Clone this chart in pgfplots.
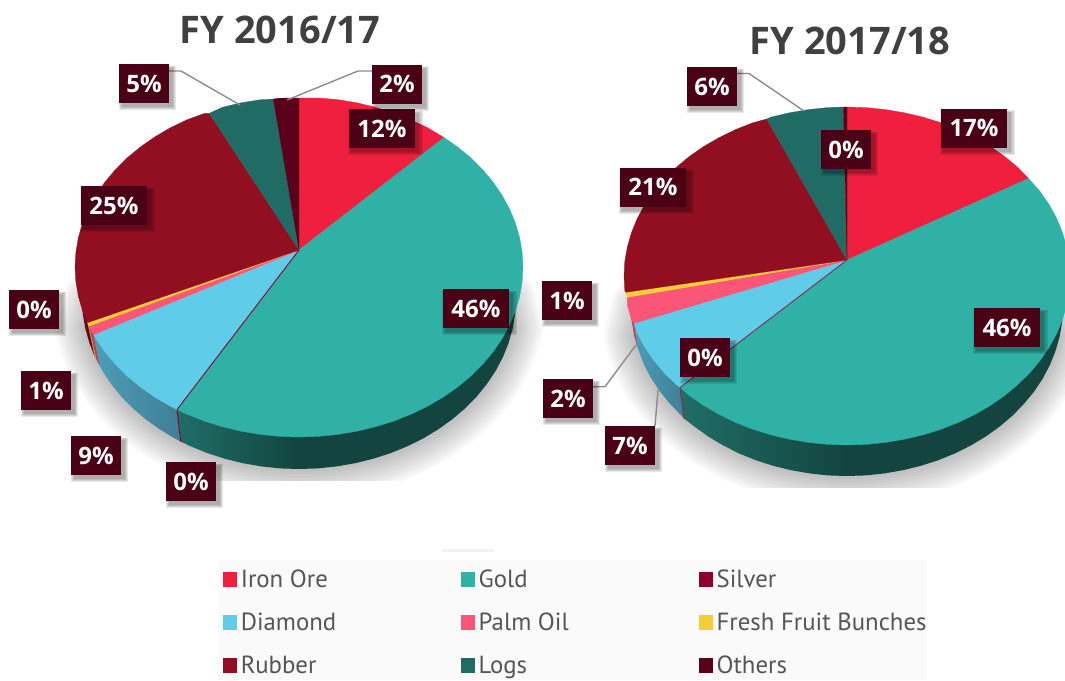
\documentclass[border=0pt]{standalone}
\usepackage{fontspec}
\setmainfont{Open Sans}
\newfontfamily\legf{PT Sans}
\usepackage{pgfplots}
\usepackage{pgfplotstable}
\pgfplotsset{compat=1.18}
\usetikzlibrary{shadows}
\definecolor{iron}{HTML}{F01F3E}
\definecolor{gold}{HTML}{2FB1A6}
\definecolor{silver}{HTML}{8F0030}
\definecolor{diamond}{HTML}{60CDE8}
\definecolor{palm}{HTML}{FB5577}
\definecolor{ffb}{HTML}{F6CE33}
\definecolor{rubber}{HTML}{920F22}
\definecolor{logs}{HTML}{206C64}
\definecolor{others}{HTML}{5A001B}
\definecolor{boxc}{HTML}{4A0015}
\definecolor{titlec}{HTML}{404040}
\definecolor{legc}{HTML}{555555}
\definecolor{leadc}{HTML}{8C8C8C}
\definecolor{gsa}{HTML}{1F6E66}
\definecolor{gsb}{HTML}{13443F}
\definecolor{dsa}{HTML}{4D9DB6}
\definecolor{dsb}{HTML}{3F7F96}
\pgfplotstableread{
x y
506 300
512.7 328.5
508.6 343
502.9 357.1
495.7 370.8
486.9 384
476.8 396.5
465.2 408.3
452.4 419.2
438.5 429.2
423.5 438.3
407.5 446.2
390.7 453.1
373.2 458.7
355.2 463.2
336.7 466.4
317.9 468.4
299 469
280.1 468.4
261.3 466.4
242.8 463.2
224.8 458.7
207.3 453.1
190.5 446.2
174.5 438.3
159.5 429.2
145.6 419.2
132.8 408.3
121.2 396.5
111.1 384
102.3 370.8
95.1 357.1
89.4 343
85.3 328.5
93 300
}\shadowA
\pgfplotstableread{
x y
1053 307
1059.7 336.3
1055.6 350.7
1050 364.8
1042.8 378.4
1034.1 391.5
1023.9 403.9
1012.5 415.6
999.7 426.5
985.8 436.5
970.9 445.4
955 453.4
938.3 460.2
920.9 465.8
902.9 470.2
884.5 473.4
865.8 475.4
847 476
828.2 475.4
809.5 473.4
791.1 470.2
773.1 465.8
755.7 460.2
739 453.4
723.1 445.4
708.2 436.5
694.3 426.5
681.5 415.6
670.1 403.9
659.9 391.5
651.2 378.4
644 364.8
638.4 350.7
634.3 336.3
641 307
}\shadowB
\tikzset{
  softshadow/.style={general shadow={shadow xshift=3pt,shadow yshift=-4pt,shadow scale=#1,fill=black,opacity=.09}},
  lab/.style={fill=boxc,text=white,font=\fontsize{24}{30}\selectfont\bfseries,
    minimum height=39pt,inner sep=0pt,
    softshadow=1.14,softshadow=1.10,softshadow=1.06,softshadow=1.02},
  labs/.style={lab,minimum width=50pt},
  labl/.style={lab,minimum width=66pt},
  ttl/.style={text=titlec,font=\fontsize{38}{44}\selectfont\bfseries,inner sep=0pt}
}
\pgfplotsset{
  wedge/.style={forget plot,fill=#1,draw=#1,line width=.3pt,line join=round},
  flat/.style={forget plot,fill=#1,draw=none},
  lead/.style={forget plot,draw=leadc,line width=1.4pt},
  shad/.style={forget plot,draw=black,opacity=.028,line width=#1,line cap=round,line join=round},
  lgimg/.style={legend image code/.code={\fill[#1] (0pt,-6pt) rectangle (13pt,8pt);}}
}
\newcommand{\lgt}[1]{\makebox[220pt][l]{#1}}
\begin{document}
\begin{tikzpicture}
\begin{axis}[
  hide axis,scale only axis,width=1065pt,height=680pt,
  xmin=0,xmax=1065,ymin=0,ymax=680,y dir=reverse,
  legend columns=3,
  legend style={draw=none,fill=none,at={(axis cs:222.7,570)},anchor=north west,
    font=\legf\fontsize{24.8}{26}\selectfont,text=legc,inner sep=0pt,
    nodes={inner sep=0pt},
    /tikz/row sep=23.8pt,
    /tikz/every odd column/.append style={column sep=4.5pt}},
  legend cell align=left
]
% legend background
\addplot[flat={black!2}] coordinates {(218,560)(927,560)(927,680)(218,680)} --cycle;
\addplot[flat={black!5}] coordinates {(442,549)(494,549)(494,552)(442,552)} --cycle;
% ground shadows
\pgfplotsinvokeforeach{60,54,48,42,36,30,24,18,12,6}{
  \addplot[shad=#1pt] table[x=x,y=y] {\shadowA};
  \addplot[shad=#1pt] table[x=x,y=y] {\shadowB};
}
\addplot[flat=white] coordinates {(0,481)(560,481)(560,545)(0,545)} --cycle;
\addplot[flat=white] coordinates {(560,488)(1065,488)(1065,545)(560,545)} --cycle;
% ---------- FY 2016/17 side walls
\addplot[forget plot,left color=gsa,right color=gsb,draw=none] coordinates {(177,409.6)(180.8,441.6)(190.5,446.2)(207.3,453.1)(224.8,458.7)(242.8,463.2)(261.3,466.4)(280.1,468.4)(299,469)(299,400)} --cycle;
\addplot[flat=gsb] coordinates {(298.5,469)(317.9,468.4)(336.7,466.4)(355.2,463.2)(373.2,458.7)(390.7,453.1)(407.5,446.2)(423.5,438.3)(438.5,429.2)(452.4,419.2)(465.2,408.3)(476.8,396.5)(486.9,384)(495.7,370.8)(502.9,357.1)(508.6,343)(512.7,328.5)(515.2,313.8)(516,299)(523,267)(298.5,400)} --cycle;
\addplot[forget plot,left color=dsa,right color=dsb,draw=none] coordinates {(177,409.6)(180.8,441.6)(174.5,438.3)(159.5,429.2)(145.6,419.2)(132.8,408.3)(121.2,396.5)(111.1,384)(102.3,370.8)(99.4,365.4)(93.6,334.7)} --cycle;
\addplot[flat={palm!75!black}] coordinates {(93.6,334.7)(99.4,365.4)(96.5,360)(88.9,326)} --cycle;
\addplot[flat={ffb!75!black}] coordinates {(88.9,326)(96.5,360)(94.5,356)(87.4,322.7)} --cycle;
\addplot[flat={rubber!70!black}] coordinates {(87.4,322.7)(94.5,356)(89.4,343)(85.3,328.5)(82.8,313.8)(82,299)(75,267)} --cycle;
\addplot[forget plot,draw=silver,line width=1pt] coordinates {(177,409.6)(180.8,441.6)};
% ---------- FY 2016/17 top face
\addplot[wedge=iron] coordinates {(299,250)(299,98)(318.5,98)(337.9,99.6)(357,102.8)(375.6,107.3)(393.7,112.9)(411,119.8)(427.5,127.7)(444,137.5)} --cycle;
\addplot[wedge=gold] coordinates {(299,250)(444,137.5)(457.4,146.8)(470.6,157.7)(482.5,169.5)(493,182)(502,195.2)(509.5,208.9)(515.4,223)(519.6,237.5)(522.1,252.2)(523,267)(522.1,281.8)(519.6,296.5)(515.4,311)(509.5,325.1)(502,338.8)(493,352)(482.5,364.5)(470.6,376.3)(457.4,387.2)(443,397.2)(427.5,406.3)(411,414.2)(393.7,421.1)(375.6,426.7)(357,431.2)(337.9,434.4)(318.5,436.4)(299,437)(279.5,436.4)(260.1,434.4)(241,431.2)(222.4,426.7)(204.3,421.1)(187,414.2)(177,409.6)} --cycle;
\addplot[wedge=diamond] coordinates {(299,250)(177,409.6)(170.5,406.3)(155,397.2)(140.6,387.2)(127.4,376.3)(115.5,364.5)(105,352)(96,338.8)(93.6,334.7)} --cycle;
\addplot[wedge=palm] coordinates {(299,250)(93.6,334.7)(88.9,326)} --cycle;
\addplot[wedge=ffb] coordinates {(299,250)(88.9,326)(87.4,322.7)} --cycle;
\addplot[wedge=rubber] coordinates {(299,250)(87.4,322.7)(82.6,311)(78.4,296.5)(75.9,281.8)(75,267)(75.9,252.2)(78.4,237.5)(82.6,223)(88.5,208.9)(96,195.2)(105,182)(115.5,169.5)(127.4,157.7)(140.6,146.8)(155,136.8)(170.5,127.7)(187,119.8)(204.3,113.5)(209.3,113.3)} --cycle;
\addplot[wedge=logs] coordinates {(299,250)(209.3,113.3)(222.4,107.3)(241,102.8)(260.1,99.8)(273.3,99)} --cycle;
\addplot[wedge=others] coordinates {(299,250)(273.3,99)(279.5,98.2)(299,98)} --cycle;
\addplot[forget plot,draw=silver,line width=.9pt] coordinates {(299,250)(177,409.6)};
% ---------- FY 2017/18 side walls
\addplot[forget plot,left color=gsa,right color=gsb,draw=none] coordinates {(680,387.5)(684,418.5)(694.3,426.5)(708.2,436.5)(723.1,445.4)(739,453.4)(755.7,460.2)(773.1,465.8)(791.1,470.2)(809.5,473.4)(828.2,475.4)(847,476)(847,410)} --cycle;
\addplot[flat=gsb] coordinates {(846.5,476)(865.8,475.4)(884.5,473.4)(902.9,470.2)(920.9,465.8)(938.3,460.2)(955,453.4)(970.9,445.4)(985.8,436.5)(999.7,426.5)(1012.5,415.6)(1023.9,403.9)(1034.1,391.5)(1042.8,378.4)(1050,364.8)(1055.6,350.7)(1059.7,336.3)(1062.2,321.7)(1063,307)(1070,276)(846.5,410)} --cycle;
\addplot[forget plot,left color=dsa,right color=dsb,draw=none] coordinates {(680,387.5)(684,418.5)(681.5,415.6)(670.1,403.9)(659.9,391.5)(651.2,378.4)(644,364.8)(637.6,348)(634,323.3)} --cycle;
\addplot[flat={palm!75!black}] coordinates {(634,323.3)(637.6,348)(634.3,336.3)(631.8,321.7)(627.3,297.3)} --cycle;
\addplot[forget plot,draw={silver!70!gray},line width=1pt] coordinates {(680,387.5)(684,418.5)};
% ---------- FY 2017/18 top face
\addplot[wedge=iron] coordinates {(847,260)(847,107)(866.4,107.6)(885.7,109.6)(904.7,112.8)(923.3,117.2)(941.2,122.8)(958.5,129.6)(974.9,137.6)(990.3,146.5)(1004.7,156.5)(1017.8,167.4)(1028.5,178.5)} --cycle;
\addplot[wedge=gold] coordinates {(847,260)(1028.5,178.5)(1040.1,191.5)(1049.1,204.6)(1056.6,218.2)(1062.4,232.3)(1066.6,246.7)(1069.2,261.3)(1070,276)(1069.2,290.7)(1066.6,305.3)(1062.4,319.7)(1056.6,333.8)(1049.1,347.4)(1040.1,360.5)(1029.7,372.9)(1017.8,384.6)(1004.7,395.5)(990.3,405.5)(974.9,414.4)(958.5,422.4)(941.2,429.2)(923.3,434.8)(904.7,439.2)(885.7,442.4)(866.4,444.4)(847,445)(827.6,444.4)(808.3,442.4)(789.3,439.2)(770.7,434.8)(752.8,429.2)(735.5,422.4)(719.1,414.4)(703.7,405.5)(689.3,395.5)(680,387.5)} --cycle;
\addplot[wedge=diamond] coordinates {(847,260)(680,387.5)(676.2,384.6)(664.3,372.9)(653.9,360.5)(644.9,347.4)(637.4,333.8)(634,323.3)} --cycle;
\addplot[wedge=palm] coordinates {(847,260)(634,323.3)(631.6,319.7)(627.4,305.3)(627.3,297.3)} --cycle;
\addplot[wedge=ffb] coordinates {(847,260)(627.3,297.3)(625.7,292.3)} --cycle;
\addplot[wedge=rubber] coordinates {(847,260)(625.7,292.3)(624.8,290.7)(624,276)(624.8,261.3)(627.4,246.7)(631.6,232.3)(637.4,218.2)(644.9,204.6)(653.9,191.5)(664.3,179.1)(676.2,167.4)(689.3,156.5)(703.7,146.5)(719.1,137.6)(735.5,129.6)(752.8,122.8)(766.7,119)} --cycle;
\addplot[wedge=logs] coordinates {(847,260)(766.7,119)(770.7,117.2)(789.3,112.8)(808.3,109.6)(827.6,107.6)(843.5,107)} --cycle;
\addplot[wedge=others] coordinates {(847,260)(843.5,107)(847,107)} --cycle;
\addplot[forget plot,draw={silver!70!gray},line width=.9pt] coordinates {(847,260)(680,387.5)};
% ---------- leader lines
\addplot[lead] coordinates {(169,71)(181,71)(240,105)};
\addplot[lead] coordinates {(372,71)(358,71)(287,100)};
\addplot[lead] coordinates {(737,73.5)(749,73.5)(804,111)};
\addplot[lead] coordinates {(593,386.7)(605,386.7)(636,345)};
\addplot[lead] coordinates {(655,426)(658,390)};
% ---------- titles
\node[ttl] at (axis cs:280,30) {FY 2016/17};
\node[ttl] at (axis cs:850,41) {FY 2017/18};
% ---------- data labels
\node[labl] at (axis cs:382,128.5) {12\%};
\node[labl] at (axis cs:476,308.5) {46\%};
\node[labl] at (axis cs:114,205.5) {25\%};
\node[labs] at (axis cs:144,83.5) {5\%};
\node[labs] at (axis cs:397,84) {2\%};
\node[labs] at (axis cs:34,309.5) {0\%};
\node[labs] at (axis cs:46,390.5) {1\%};
\node[labs] at (axis cs:96,455.5) {9\%};
\node[labs] at (axis cs:191,481.5) {0\%};
\node[labl] at (axis cs:974,128) {17\%};
\node[labl] at (axis cs:1007,327.5) {46\%};
\node[labl] at (axis cs:653,187) {21\%};
\node[labs] at (axis cs:712,86.5) {6\%};
\node[labs] at (axis cs:846,149.5) {0\%};
\node[labs] at (axis cs:567,300.5) {1\%};
\node[labs] at (axis cs:705,357.5) {0\%};
\node[labs] at (axis cs:568,398.5) {2\%};
\node[labs] at (axis cs:630,445.5) {7\%};
% ---------- legend
\addlegendimage{lgimg=iron}\addlegendentry{\lgt{Iron Ore}}
\addlegendimage{lgimg=gold}\addlegendentry{\lgt{Gold}}
\addlegendimage{lgimg=silver}\addlegendentry{\lgt{Silver}}
\addlegendimage{lgimg=diamond}\addlegendentry{\lgt{Diamond}}
\addlegendimage{lgimg=palm}\addlegendentry{\lgt{Palm Oil}}
\addlegendimage{lgimg=ffb}\addlegendentry{\lgt{Fresh Fruit Bunches}}
\addlegendimage{lgimg=rubber}\addlegendentry{\lgt{Rubber}}
\addlegendimage{lgimg=logs}\addlegendentry{\lgt{Logs}}
\addlegendimage{lgimg=others}\addlegendentry{\lgt{Others}}
\end{axis}
\path (current axis.south west) rectangle (current axis.north east);
\end{tikzpicture}
\end{document}
